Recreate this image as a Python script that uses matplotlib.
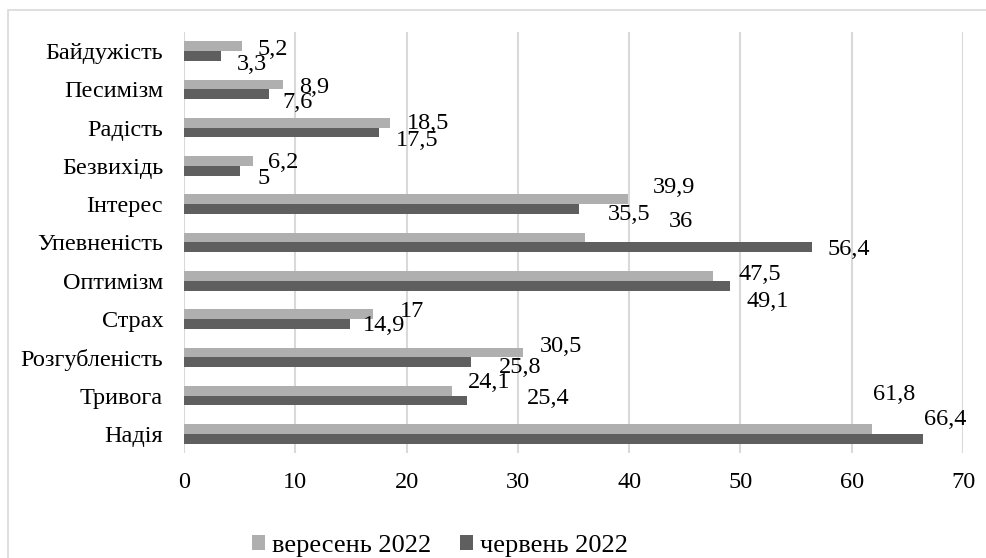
# horizontal grouped bar chart of emotional states, September vs June 2022

import matplotlib
matplotlib.use('Agg')
import matplotlib.pyplot as plt
from matplotlib.patches import Rectangle
import numpy as np


# data
# ---

categories = ['Байдужість', 'Песимізм', 'Радість', 'Безвихідь', 'Інтерес', 'Упевненість',
              'Оптимізм', 'Страх', 'Розгубленість', 'Тривога', 'Надія']
sep_2022 = [5.2, 8.9, 18.5, 6.2, 39.9, 36, 47.5, 17, 30.5, 24.1, 61.8]
jun_2022 = [3.3, 7.6, 17.5, 5, 35.5, 56.4, 49.1, 14.9, 25.8, 25.4, 66.4]
series_names = ['вересень 2022', 'червень 2022']

# label offsets from bar end, in pixels (right, down) - labels were moved by hand
sep_label_offsets = [(16, 3), (16, 2.5), (17, 1), (15, 1), (25, -12), (84, -16),
                     (26, -1), (27, -2.5), (16, -6), (16, -8), (1, -34.5)]
jun_label_offsets = [(16, 9), (14, 8.5), (17, 8), (18, 8), (29, 5), (16, 2),
                     (16, 16), (13, 1.5), (28, 5), (60, -2), (1, -19.5)]


# style
# ---

plt.rcParams['font.family'] = ['Liberation Serif', 'DejaVu Serif']
fs = 17.5
c_sep = '#afafaf'
c_jun = '#5f5f5f'
c_grid = '#d9d9d9'
h = 0.255


# plot
# ---

fig = plt.figure(figsize=(9.87, 5.58), dpi=100)
ax = fig.add_axes([0.1864, 0.1882, 0.9757 - 0.1864, 0.9427 - 0.1882])

y = np.arange(len(categories))
ax.barh(y - h / 2, sep_2022, height=h, color=c_sep, label=series_names[0], zorder=3)
ax.barh(y + h / 2, jun_2022, height=h, color=c_jun, label=series_names[1], zorder=3)

def fmt(v):
    return '{:g}'.format(v).replace('.', ',')

for i in range(len(categories)):
    dx, dy = sep_label_offsets[i]
    ax.annotate(fmt(sep_2022[i]), xy=(sep_2022[i], y[i] - h / 2), xytext=(dx, -dy),
                textcoords='offset pixels', ha='left', va='center', fontsize=fs)
    dx, dy = jun_label_offsets[i]
    ax.annotate(fmt(jun_2022[i]), xy=(jun_2022[i], y[i] + h / 2), xytext=(dx, -dy),
                textcoords='offset pixels', ha='left', va='center', fontsize=fs)

ax.set_xlim(0, 70)
ax.set_ylim(len(categories) - 0.5, -0.5)
ax.set_xticks(np.arange(0, 71, 10))
ax.set_yticks(y)
ax.set_yticklabels(categories)
ax.tick_params(axis='both', length=0, labelsize=fs)
ax.tick_params(axis='y', pad=15)
ax.tick_params(axis='x', pad=14)
ax.grid(axis='x', color=c_grid, lw=1.5, zorder=0)
for s in ax.spines.values():
    s.set_visible(False)

ax.legend(loc='center', bbox_to_anchor=(440 / 987, 1 - 546 / 558), bbox_transform=fig.transFigure,
          ncol=2, frameon=False, fontsize=19, handlelength=0.5, handleheight=0.5,
          handletextpad=0.25, columnspacing=1.1)

# outer chart border
fig.patches.append(Rectangle((8.5 / 987, -0.1), 1.2, 1 - 9.5 / 558 + 0.1, transform=fig.transFigure,
                             fill=False, edgecolor=c_grid, lw=1.2))

plt.savefig('out.png', dpi=100)
plt.close()
